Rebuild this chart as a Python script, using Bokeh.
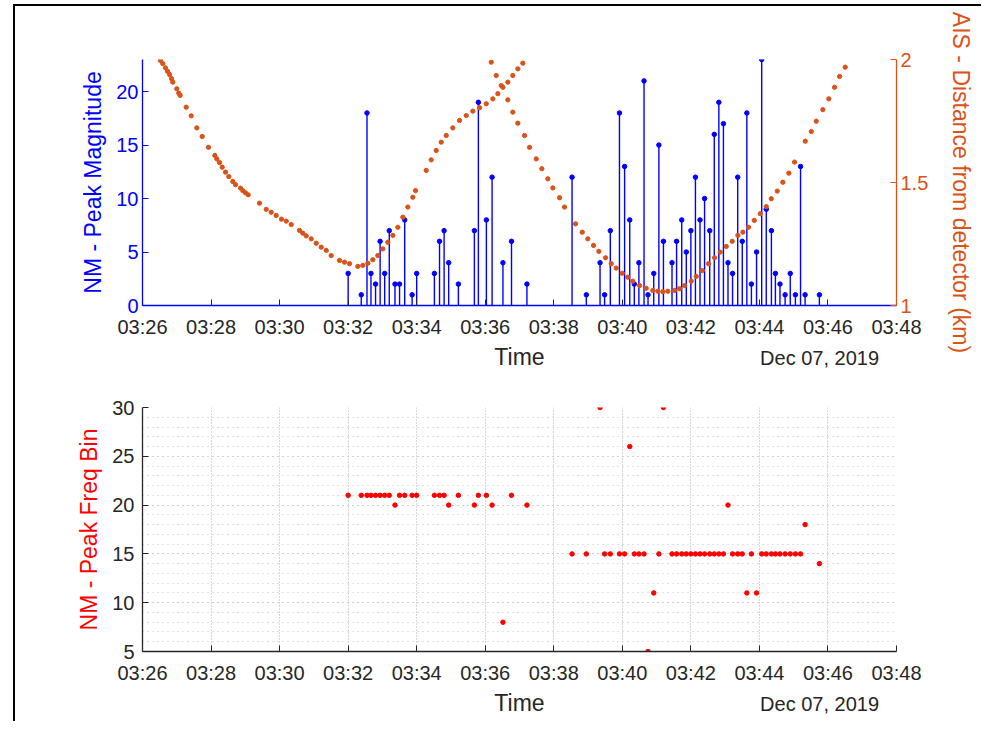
import pandas as pd
from bokeh.plotting import figure
from bokeh.models import (Range1d, LinearAxis, FixedTicker, DatetimeTickFormatter,
                          ColumnDataSource)
from bokeh.layouts import column
from bokeh.embed import file_html
from bokeh.resources import INLINE

DATE = "2019-12-07"
x_start, x_end = "03:26", "03:48"
x_ticks = ["03:26", "03:28", "03:30", "03:32", "03:34", "03:36", "03:38",
           "03:40", "03:42", "03:44", "03:46", "03:48"]

# NM detections: time, peak magnitude, peak frequency bin
nm_times = ["03:32:00", "03:32:23", "03:32:33", "03:32:40", "03:32:48", "03:32:56",
            "03:33:04", "03:33:12", "03:33:22", "03:33:30", "03:33:39", "03:33:52",
            "03:34:00", "03:34:31", "03:34:40", "03:34:48", "03:34:56", "03:35:13",
            "03:35:41", "03:35:48", "03:36:02", "03:36:12", "03:36:31", "03:36:46",
            "03:37:13",
            "03:38:32", "03:38:57", "03:39:21", "03:39:29", "03:39:39", "03:39:55",
            "03:40:04", "03:40:13", "03:40:21", "03:40:29", "03:40:38", "03:40:45",
            "03:40:55", "03:41:04", "03:41:12", "03:41:27", "03:41:35", "03:41:44",
            "03:41:52", "03:42:00", "03:42:08", "03:42:16", "03:42:24", "03:42:33",
            "03:42:41", "03:42:49", "03:42:57", "03:43:05", "03:43:13", "03:43:22",
            "03:43:30", "03:43:38", "03:43:46", "03:43:55", "03:44:04", "03:44:12",
            "03:44:21", "03:44:28", "03:44:36", "03:44:45", "03:44:54", "03:45:03",
            "03:45:12", "03:45:20", "03:45:45"]
nm_peak_mag = [3, 1, 18, 3, 2, 6, 3, 7, 2, 2, 8, 1, 3, 3, 6, 7, 4, 2, 7, 19, 8, 12, 4, 6, 2,
               12, 1, 4, 1, 7, 18, 13, 8, 2, 4, 21, 1, 3, 15, 6, 4, 6, 8, 5, 7, 12, 8, 10,
               7, 16, 19, 17, 4, 3, 12, 6, 18, 2, 5, 23, 9, 7, 3, 2, 1, 3, 1, 13, 1, 1]
nm_peak_bin = [21, 21, 21, 21, 21, 21, 21, 21, 20, 21, 21, 21, 21, 21, 21, 21, 20, 21, 20,
               21, 21, 20, 8, 21, 20,
               15, 15, 30, 15, 15, 15, 15, 26, 15, 15, 15, 5, 11, 15, 30, 15, 15, 15, 15,
               15, 15, 15, 15, 15, 15, 15, 15, 20, 15, 15, 15, 11, 15, 11, 15, 15, 15, 15,
               15, 15, 15, 15, 15, 18, 14]

# AIS distance from detector (km), time given as minutes after 03:26:00
ais1_min = [0.525, 0.592, 0.671, 0.730, 0.788, 0.846, 0.884, 1.001, 1.059, 1.100, 1.275,
            1.421, 1.584, 1.742, 1.926, 2.110, 2.168, 2.247, 2.326, 2.422, 2.518, 2.635,
            2.714, 2.860, 2.927, 3.005, 3.084, 3.414, 3.610, 3.755, 3.901, 4.056, 4.193,
            4.339, 4.581, 4.678, 4.777, 4.923, 5.069, 5.215, 5.360, 5.506, 5.748, 5.894,
            6.040, 6.282, 6.428, 6.574, 6.720, 6.866, 7.012, 7.158, 7.304, 7.450, 7.596,
            7.741, 7.887, 7.966, 8.278, 8.424, 8.570, 8.716, 8.862, 9.054, 9.250, 9.446,
            9.638, 9.834, 10.029, 10.222, 10.368, 10.514, 10.659, 10.805, 10.951, 11.097]
ais1_km = [1.996, 1.983, 1.966, 1.952, 1.939, 1.922, 1.908, 1.881, 1.863, 1.854, 1.806,
           1.771, 1.722, 1.687, 1.643, 1.610, 1.596, 1.581, 1.562, 1.542, 1.524, 1.504,
           1.491, 1.477, 1.467, 1.458, 1.450, 1.416, 1.391, 1.379, 1.366, 1.351, 1.343,
           1.329, 1.305, 1.294, 1.283, 1.271, 1.253, 1.237, 1.224, 1.203, 1.183, 1.176,
           1.170, 1.159, 1.163, 1.172, 1.186, 1.203, 1.230, 1.257, 1.285, 1.318, 1.359,
           1.400, 1.440, 1.467, 1.549, 1.592, 1.630, 1.664, 1.691, 1.722, 1.752, 1.772,
           1.790, 1.804, 1.820, 1.840, 1.861, 1.887, 1.908, 1.935, 1.962, 1.985]
ais2_min = [10.175, 10.321, 10.467, 10.659, 10.805, 10.951, 11.147, 11.293, 11.488, 11.652,
            11.827, 11.973, 12.168, 12.314, 12.635, 12.830, 12.994, 13.160, 13.315, 13.510,
            13.677, 13.823, 13.998, 14.161, 14.307, 14.502, 14.698, 14.890, 15.036, 15.182,
            15.328, 15.524, 15.670, 15.816, 16.011, 16.157, 16.332, 16.516, 16.691, 16.857,
            17.032, 17.207, 17.371, 17.517, 17.683, 17.850, 18.025, 18.200, 18.346, 18.521,
            18.684, 18.859, 19.025, 19.338, 19.513, 19.659, 19.851, 20.026, 20.193, 20.339,
            20.505]
ais2_km = [1.989, 1.935, 1.894, 1.836, 1.786, 1.741, 1.691, 1.643, 1.596, 1.556, 1.515,
           1.478, 1.438, 1.400, 1.332, 1.298, 1.271, 1.244, 1.220, 1.194, 1.170, 1.152,
           1.131, 1.115, 1.099, 1.081, 1.070, 1.061, 1.058, 1.056, 1.058, 1.061, 1.068,
           1.081, 1.099, 1.118, 1.142, 1.170, 1.194, 1.217, 1.240, 1.261, 1.285, 1.298,
           1.318, 1.346, 1.373, 1.402, 1.434, 1.465, 1.501, 1.538, 1.583, 1.668, 1.707,
           1.749, 1.796, 1.840, 1.887, 1.931, 1.969]
date_text = "Dec 07, 2019"

BLUE = "#0000FF"
ORANGE = "#D95319"
RED = "#FF0000"
DARK = "#262626"
FONT = "Liberation Sans"
TICK_FS = "20px"
LABEL_FS = "23px"


def ts(hms):
    return pd.Timestamp(f"{DATE} {hms}")


def ms(t):
    return t.value / 1e6


t0 = ts(x_start + ":00")
nm_src = ColumnDataSource(dict(
    t=[ts(s) for s in nm_times], mag=nm_peak_mag, fbin=nm_peak_bin))
ais1_src = ColumnDataSource(dict(
    t=[t0 + pd.Timedelta(minutes=m) for m in ais1_min], km=ais1_km))
ais2_src = ColumnDataSource(dict(
    t=[t0 + pd.Timedelta(minutes=m) for m in ais2_min], km=ais2_km))

tick_ms = [ms(ts(s + ":00")) for s in x_ticks]
fmt = DatetimeTickFormatter(seconds="%H:%M", minsec="%H:%M", minutes="%H:%M",
                            hourmin="%H:%M", hours="%H:%M")


def style_xaxis(p, line_color):
    ax = p.xaxis[0]
    ax.ticker = FixedTicker(ticks=tick_ms, minor_ticks=[])
    ax.formatter = fmt
    ax.axis_line_color = line_color
    ax.axis_line_width = 1.3
    ax.major_tick_line_color = DARK
    ax.major_tick_in = 6
    ax.major_tick_out = 0
    ax.minor_tick_line_color = None
    ax.major_label_text_font = FONT
    ax.major_label_text_font_size = TICK_FS
    ax.major_label_text_color = DARK
    ax.major_label_standoff = 10
    ax.axis_label = "Time"
    ax.axis_label_text_font = FONT
    ax.axis_label_text_font_size = LABEL_FS
    ax.axis_label_text_font_style = "normal"
    ax.axis_label_text_color = DARK
    ax.axis_label_standoff = 3
    # date text on the same line as "Time", as the (centred, left-padded) label
    # of a tick-less axis, so that it ends near the right end of the time axis
    dax = LinearAxis(ticker=FixedTicker(ticks=[], minor_ticks=[]))
    dax.axis_line_color = None
    dax.major_tick_line_color = None
    dax.minor_tick_line_color = None
    dax.major_tick_out = 0
    dax.major_tick_in = 0
    dax.axis_label = "\u00a0" * 108 + date_text
    dax.axis_label_text_font = FONT
    dax.axis_label_text_font_size = TICK_FS
    dax.axis_label_text_font_style = "normal"
    dax.axis_label_text_color = DARK
    dax.axis_label_standoff = -26
    p.add_layout(dax, "below")


def style_yaxis(ax, color, label, standoff):
    ax.axis_label = label
    ax.axis_line_color = color
    ax.axis_line_width = 1.3
    ax.major_tick_line_color = color
    ax.major_tick_in = 6
    ax.major_tick_out = 0
    ax.minor_tick_line_color = None
    ax.major_label_text_color = color
    ax.major_label_text_font = FONT
    ax.major_label_text_font_size = TICK_FS
    ax.major_label_standoff = 4
    ax.axis_label_text_color = color
    ax.axis_label_text_font = FONT
    ax.axis_label_text_font_size = LABEL_FS
    ax.axis_label_text_font_style = "normal"
    ax.axis_label_standoff = standoff


# ---------------- top panel ----------------
p1 = figure(width=966, height=374, x_axis_type="datetime",
            x_range=Range1d(ms(ts(x_start + ":00")), ms(ts(x_end + ":00"))),
            y_range=Range1d(0, 23), output_backend="svg", toolbar_location=None,
            min_border_left=127, min_border_right=85, min_border_top=53,
            min_border_bottom=75)
p1.outline_line_color = None
p1.grid.visible = False
p1.border_fill_alpha = 0
p1.extra_y_ranges = {"ais": Range1d(1, 2)}

p1.segment(x0="t", y0=0, x1="t", y1="mag", source=nm_src, line_color=BLUE, line_width=1.4)
p1.scatter("t", "mag", source=nm_src, size=4.5, color=BLUE)
p1.scatter("t", "km", source=ais1_src, y_range_name="ais", size=4.3, color=ORANGE)
p1.scatter("t", "km", source=ais2_src, y_range_name="ais", size=4.3, color=ORANGE)

style_xaxis(p1, BLUE)
p1.yaxis[0].ticker = FixedTicker(ticks=[0, 5, 10, 15, 20], minor_ticks=[])
style_yaxis(p1.yaxis[0], BLUE, "NM - Peak Magnitude", 7)
rax = LinearAxis(y_range_name="ais", ticker=FixedTicker(ticks=[1, 1.5, 2], minor_ticks=[]))
style_yaxis(rax, ORANGE, "AIS - Distance from detector (km)", 17)
p1.add_layout(rax, "right")

# ---------------- bottom panel ----------------
p2 = figure(width=966, height=341, x_axis_type="datetime",
            x_range=p1.x_range, y_range=Range1d(5, 30),
            output_backend="svg", toolbar_location=None,
            min_border_left=127, min_border_right=85, min_border_top=27,
            min_border_bottom=70)
p2.outline_line_color = None
p2.border_fill_alpha = 0

style_xaxis(p2, DARK)
p2.yaxis[0].ticker = FixedTicker(ticks=[5, 10, 15, 20, 25, 30], minor_ticks=list(range(5, 31)))
style_yaxis(p2.yaxis[0], DARK, "NM - Peak Freq Bin", 7)
p2.yaxis[0].axis_label_text_color = RED

p2.xgrid.grid_line_color = "#b0b0b0"
p2.xgrid.grid_line_dash = "1 2"
p2.ygrid.grid_line_color = "#c0c0c0"
p2.ygrid.grid_line_dash = "1 4"
p2.ygrid.minor_grid_line_color = "#c4c4c4"
p2.ygrid.minor_grid_line_dash = "1 4"

p2.scatter("t", "fbin", source=nm_src, size=4.5, color=RED)

layout = column(p1, p2, spacing=0,
                styles={"border-left": "2px solid black", "border-top": "2px solid black",
                        "margin-left": "13px", "margin-top": "4px"})

open("out.html", "w").write(file_html(layout, INLINE))
